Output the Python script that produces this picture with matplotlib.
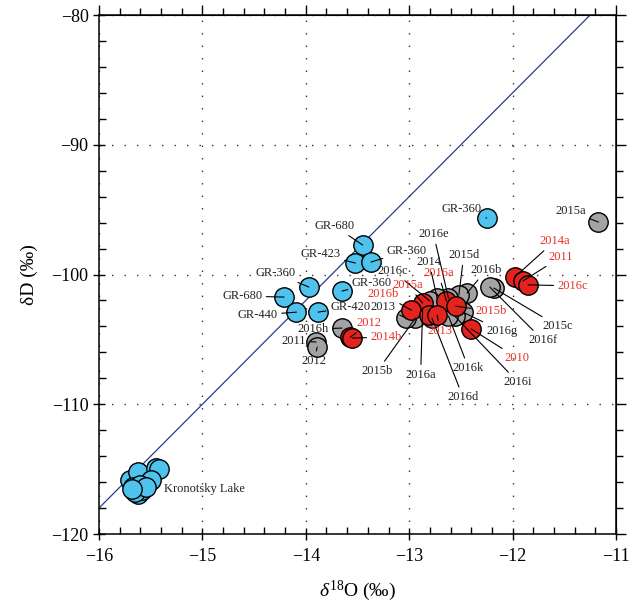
import numpy as np
import matplotlib
matplotlib.use('Agg')
import matplotlib.pyplot as plt
from matplotlib.ticker import MultipleLocator

plt.rcParams['font.family'] = ['Liberation Serif', 'DejaVu Serif']
plt.rcParams['mathtext.fontset'] = 'custom'
plt.rcParams['mathtext.rm'] = 'Liberation Serif'
plt.rcParams['mathtext.it'] = 'Liberation Serif:italic'

# Kronotsky Lake samples
lake_x = [-15.70, -15.62, -15.45, -15.42, -15.50, -15.67, -15.62, -15.58, -15.60, -15.65, -15.55, -15.68]
lake_y = [-115.8, -115.2, -114.9, -115.0, -115.8, -116.4, -116.9, -116.6, -116.2, -116.8, -116.4, -116.5]

# GR samples (blue)
gr_x = [-12.25, -13.45, -13.52, -13.37, -13.97, -14.21, -14.09, -13.88, -13.65]
gr_y = [-95.65, -97.73, -99.12, -99.04, -100.97, -101.74, -102.90, -102.90, -101.28]
gr_lab = ['GR-360', 'GR-680', 'GR-423', 'GR-360', 'GR-360', 'GR-680', 'GR-440', 'GR-420', 'GR-360']

# gray samples
g_x = [-11.17, -12.18, -12.22, -12.44, -12.52, -12.62, -12.73, -12.80, -12.48,
       -12.56, -12.62, -12.78, -12.87, -12.94, -13.03, -13.65, -13.90, -13.89]
g_y = [-95.96, -101.05, -100.97, -101.43, -101.59, -101.82, -101.82, -102.05, -102.90,
       -103.20, -103.20, -103.36, -102.70, -103.36, -103.36, -104.13, -105.20, -105.60]
g_lab = ['2015a', '2015c', '2016f', '2016b', '2015d', '2016e', '2014', '2016c', '2016g',
         '2016i', '2016k', '2016d', '2016a', '2015b', '2013', '2016h', '2011', '2012']

# red samples
r_x = [-11.98, -11.90, -11.85, -12.64, -12.55, -12.87, -12.98, -12.81, -12.73, -12.40, -13.57, -13.55]
r_y = [-100.20, -100.50, -100.80, -102.05, -102.44, -102.20, -102.75, -103.13, -103.13, -104.20, -104.83, -104.90]
r_lab = ['2014a', '2011', '2016c', '2016a', '2015b', '2015a', '2016b', '', '2013', '2010', '2012', '2014b']

# label offsets (pixels)
gr_off = [(-25, 9), (-28, 19), (-35, 9), (36, 11), (-33, 14), (-42, 1), (-39, -3), (32, 5), (30, 8)]
g_off = [(-28, 11), (64, -38), (53, -53), (19, 23), (5, 40), (-15, 64), (-8, 36), (-37, 30), (39, -19),
         (63, -66), (20, -52), (31, -79), (-2, -65), (-38, -53), (-23, 11), (-29, -1), (-22, 1), (-3, -14)]
r_off = [(40, 36), (38, 24), (45, -1), (-8, 28), (35, -5), (-15, 18), (-28, 16), (0, 0), (3, -16),
         (46, -29), (19, 14), (34, 1)]

blue = '#4fc3ee'
red = '#e3231e'
gray = '#a3a3a3'
red_txt = '#e8302a'

fig = plt.figure(figsize=(6.31, 6.10), dpi=100)
ax = fig.add_axes([99/631, 1-534/610, 517/631, 519/610])

# GMWL
gx = np.array([-16, -11])
ax.plot(gx, 8*gx + 10, color='#2c3a8f', lw=0.9, zorder=1)

ms = 195
ax.scatter(lake_x, lake_y, s=ms, c=blue, edgecolors='k', linewidths=1.0, zorder=2)
ax.scatter(gr_x, gr_y, s=ms, c=blue, edgecolors='k', linewidths=1.0, zorder=2)
ax.scatter(g_x, g_y, s=ms, c=gray, edgecolors='k', linewidths=1.0, zorder=2)
ax.scatter(r_x, r_y, s=ms, c=red, edgecolors='k', linewidths=1.0, zorder=2)

def label(xs, ys, labs, offs, col):
    for x, y, t, (dx, dy) in zip(xs, ys, labs, offs):
        if not t:
            continue
        ax.annotate(t, (x, y), xytext=(dx, dy), textcoords='offset pixels',
                    ha='center', va='center', fontsize=9, color=col, zorder=3,
                    arrowprops=dict(arrowstyle='-', color='k', lw=0.8,
                                    shrinkA=1, shrinkB=0))

label(gr_x, gr_y, gr_lab, gr_off, '#222222')
label(g_x, g_y, g_lab, g_off, '#222222')
label(r_x, r_y, r_lab, r_off, red_txt)

ax.text(-15.37, -116.55, 'Kronotsky Lake', fontsize=9, color='#222222', va='center', ha='left')

ax.set_xlim(-16, -11)
ax.set_ylim(-120, -80)
ax.xaxis.set_major_locator(MultipleLocator(1))
ax.xaxis.set_minor_locator(MultipleLocator(0.2))
ax.yaxis.set_major_locator(MultipleLocator(10))
ax.yaxis.set_minor_locator(MultipleLocator(2))
ax.tick_params(which='major', direction='inout', length=8, width=1.0, labelsize=13, colors='k')
ax.tick_params(which='minor', direction='in', length=5, width=1.0)
ax.tick_params(axis='x', pad=6)

for s in ax.spines.values():
    s.set_linewidth(1.1)

ax.grid(True, which='major', color='#333333', linestyle=(0, (1, 8)), lw=1.0)

top = ax.secondary_xaxis('top')
top.xaxis.set_major_locator(MultipleLocator(1))
top.xaxis.set_minor_locator(MultipleLocator(0.2))
top.tick_params(which='major', direction='out', length=7, width=1.0, labeltop=False)
top.tick_params(which='minor', direction='out', length=5, width=1.0)
right = ax.secondary_yaxis('right')
right.yaxis.set_major_locator(MultipleLocator(10))
right.yaxis.set_minor_locator(MultipleLocator(2))
right.tick_params(which='major', direction='out', length=7, width=1.0, labelright=False)
right.tick_params(which='minor', direction='out', length=5, width=1.0)

ax.set_xlabel(r'$\delta^{18}\mathrm{O}$ (‰)', fontsize=14, labelpad=10)
ax.set_ylabel('δD (‰)', fontsize=14, labelpad=10)

fig.savefig('out.png', dpi=100)
